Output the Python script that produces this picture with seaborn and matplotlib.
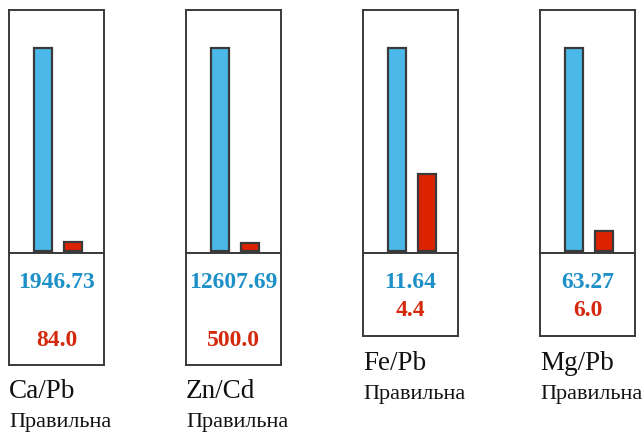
import matplotlib
matplotlib.use("Agg")
import matplotlib.pyplot as plt
import seaborn as sns
import pandas as pd

# values
ratios = ["Ca/Pb", "Zn/Cd", "Fe/Pb", "Mg/Pb"]
measured = [1946.73, 12607.69, 11.64, 63.27]
norms = [84.0, 500.0, 4.4, 6.0]
verdicts = ["Правильна", "Правильна", "Правильна", "Правильна"]

blue = "#4ab9ea"
red = "#dd2200"
blue_txt = "#1e90c8"
red_txt = "#d4290c"
edge = "#3a3a3a"

sns.set_theme(style="white")
plt.rcParams["font.family"] = ["Liberation Serif", "DejaVu Serif"]

W, H = 643, 434
fig = plt.figure(figsize=(W / 100, H / 100), dpi=100)

# pixel layout of each panel
lefts = [9, 186, 363, 540]
box_w = 95
top, sep = 10, 253
bottoms = [365, 365, 336, 336]


def px_axes(x, y0, w, y1):
    return fig.add_axes([x / W, 1 - y1 / H, w / W, (y1 - y0) / H])


for i, name in enumerate(ratios):
    x = lefts[i]
    # bar part
    ax = px_axes(x, top, box_w, sep)
    df = pd.DataFrame({"kind": ["measured", "norm"], "value": [measured[i], norms[i]]})
    sns.barplot(data=df, x="kind", y="value", hue="kind",
                palette=[blue, red], saturation=1, width=0.6, linewidth=1.6,
                edgecolor=edge, legend=False, ax=ax)
    ax.set_xlim(-34 / 30, -34 / 30 + box_w / 30)
    ax.set_ylim(-measured[i] * 0.012, measured[i] / 0.84)
    ax.set_xticks([])
    ax.set_yticks([])
    ax.set_xlabel("")
    ax.set_ylabel("")
    for s in ax.spines.values():
        s.set_color(edge)
        s.set_linewidth(1.4)

    # value box
    bx = px_axes(x, sep, box_w, bottoms[i])
    bx.set_xticks([])
    bx.set_yticks([])
    for s in bx.spines.values():
        s.set_color(edge)
        s.set_linewidth(1.4)
    bx.set_xlim(0, 1)
    bx.set_ylim(bottoms[i], sep)
    if bottoms[i] > 350:
        y_red = 340
    else:
        y_red = 311
    bx.text(0.5, 283, f"{measured[i]:.2f}", ha="center", va="center",
            color=blue_txt, fontsize=17, fontweight="bold")
    bx.text(0.5, y_red, f"{norms[i]:.1f}", ha="center", va="center",
            color=red_txt, fontsize=17, fontweight="bold")

    # labels under the box
    fig.text(x / W, 1 - (bottoms[i] + 27) / H, name, ha="left", va="center",
             fontsize=19.5, color="#111111")
    fig.text(x / W, 1 - (bottoms[i] + 58) / H, verdicts[i], ha="left", va="center",
             fontsize=16, color="#111111")

fig.savefig("out.png", dpi=100)
